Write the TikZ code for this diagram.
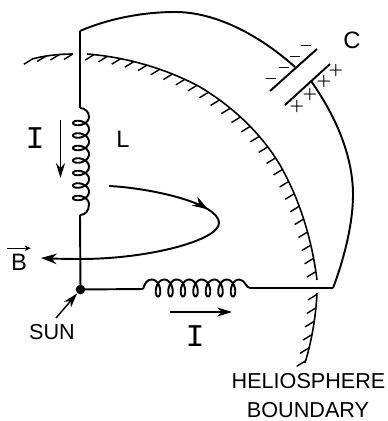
\documentclass[tikz,border=0pt]{standalone}
\usepackage{fontspec}
\setmainfont{Liberation Sans}
\newfontfamily\slabfont{Liberation Mono}
\usetikzlibrary{arrows.meta,decorations.markings}
\tikzset{
	wire/.style = {line width=1.1pt, line join=round},
	bigarrow/.style = {line width=0.8pt, -{Stealth[length=8.5pt,width=5.2pt]}},
	hatched/.style = {line width=0.9pt, postaction={decorate}, decoration={markings,
		mark=between positions 0.02 and 1 step 0.27cm with {\pgftransformresetnontranslations \draw[line width=0.8pt] (0,0) -- (-0.18cm,-0.11cm);}}},
	lab/.style = {font=\fontsize{12.3}{14}\selectfont, inner sep=0pt},
	biglab/.style = {font=\fontsize{13.5}{14}\selectfont, inner sep=0pt},
	barI/.style = {font=\fontsize{18}{18}\selectfont\slabfont, inner sep=0pt},
	signplus/.style = {font=\small\boldmath, inner sep=0pt},
	signminus/.style = {font=\footnotesize\boldmath, inner sep=0pt}
}
\begin{document}
\begin{tikzpicture}[x=0.02cm, y=-0.02cm]
	\useasboundingbox (0,0) rectangle (387,421);
	% heliosphere boundary
	\draw[hatched] (32,59) .. controls (45,55.5) and (60,54) .. (73,54);
	\draw[hatched] (87,54) .. controls (125,57) and (165,68) .. (200,87) .. controls (235,108) and (262,135) .. (280,165) .. controls (300,200) and (312,240) .. (317,280);
	\draw[hatched] (317,293) .. controls (316,315) and (312,340) .. (305,363);
	% circuit
	\coordinate (top) at (80,31);
	\coordinate (coilLtop) at (80,108);
	\coordinate (coilLbot) at (80,215);
	\coordinate (coilRleft) at (143,289);
	\coordinate (coilRright) at (250,288);
	\coordinate (corner) at (333,288);
	\node[circle, fill=black, inner sep=0pt, minimum size=5.5pt] (sun) at (80.5,289.5) {};
	\draw[wire] (top) -- (coilLtop);
	\draw[wire] (coilLtop) .. controls (85,108) and (89,112) .. (89,116.75)
		-- plot[domain=0:7, samples=210] ({81+8*cos(360*\x)},{116.75+12.5*\x+5*sin(360*\x)})
		.. controls (89,211) and (85,215) .. (coilLbot);
	\draw[wire] (coilLbot) -- (sun.center);
	\draw[wire] (sun.center) -- (coilRleft);
	\draw[wire] (coilRleft) .. controls (145,283) and (147,279.5) .. (151.75,279.5)
		-- plot[domain=0:7, samples=210] ({151.75+12.5*\x+5*sin(360*\x)},{288-8.5*cos(360*\x)})
		.. controls (245,279.5) and (246,288) .. (coilRright);
	\draw[wire] (coilRright) -- (corner);
	\draw[wire] (top) .. controls (110,18) and (145,12) .. (175,12) .. controls (220,12) and (265,40) .. (295,67);
	\draw[wire] (311,81) .. controls (335,115) and (353,155) .. (353,195) .. controls (353,225) and (343,262) .. (corner);
	% capacitor
	\coordinate (plateAa) at (270,91);
	\coordinate (plateAb) at (317,49);
	\coordinate (plateBa) at (285,105);
	\coordinate (plateBb) at (330,64);
	\draw[wire] (plateAa) -- (plateAb);
	\draw[wire] (plateBa) -- (plateBb);
	\foreach \xsign/\ysign in {271/79, 284/68, 295/57, 306/46}{
		\node[signminus] at (\xsign,\ysign) {$-$};
	}
	\foreach \xsign/\ysign in {297/107, 310/95, 324/82, 336/71}{
		\node[signplus] at (\xsign,\ysign) {$+$};
	}
	\node[biglab] (labelC) at (352,40) {C};
	\node[biglab] (labelL) at (123,139) {L};
	% currents
	\coordinate (iLa) at (60.5,120);
	\coordinate (iLb) at (60.5,178);
	\coordinate (iRa) at (170,312);
	\coordinate (iRb) at (232,312);
	\draw[bigarrow] (iLa) -- (iLb);
	\draw[bigarrow] (iRa) -- (iRb);
	\node[barI] (currentL) at (35,138) {I};
	\node[barI] (currentR) at (195,336) {I};
	% field line
	\draw[wire, -{Stealth[length=9pt,width=6pt]}, postaction={decorate}, decoration={markings, mark=at position 2.05cm with {\arrow{Stealth[length=9pt,width=6pt]}}}]
		(109,186) .. controls (150,188) and (219,203) .. (219,223) .. controls (219,240) and (150,259) .. (80,259) .. controls (65,259) and (50,258.5) .. (41,258);
	\node[biglab] (labelB) at (19,262) {B};
	\draw[line width=0.7pt, -{Stealth[length=3.5pt,width=3pt]}] ([shift={(-2pt,3pt)}]labelB.north west) -- ([shift={(2pt,3pt)}]labelB.north east);
	% labels below
	\node[lab] (labelSun) at (52,332) {SUN};
	\coordinate (sunTail) at (56,318);
	\draw[bigarrow] (sunTail) -- (sun);
	\node[lab] (helio) at (308.5,381) {HELIOSPHERE};
	\node[lab] (bound) at (308,410) {BOUNDARY};
\end{tikzpicture}
\end{document}
